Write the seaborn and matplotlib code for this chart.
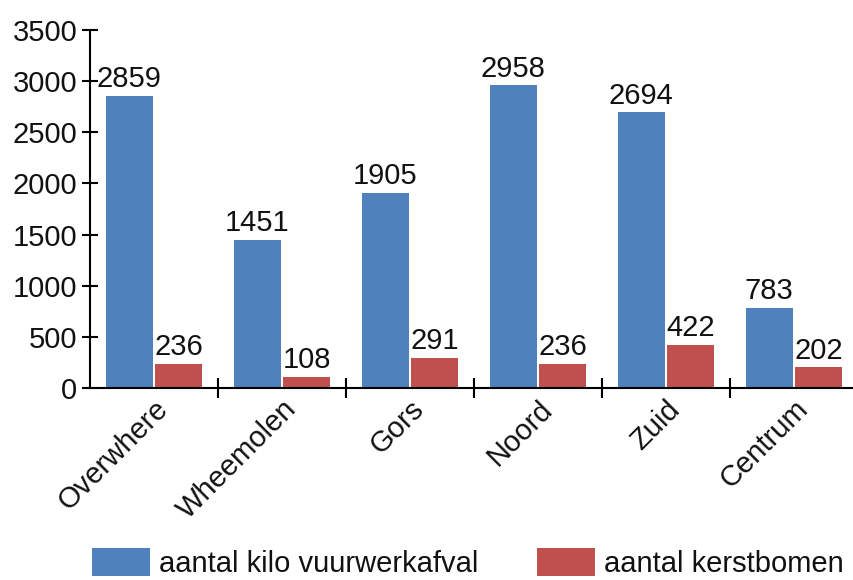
import matplotlib
matplotlib.use("Agg")
import matplotlib.pyplot as plt
from matplotlib import font_manager
from matplotlib.ticker import FixedLocator
from matplotlib.patches import Patch
import seaborn as sns
import pandas as pd

categories = ["Overwhere", "Wheemolen", "Gors", "Noord", "Zuid", "Centrum"]
vuurwerk = [2859, 1451, 1905, 2958, 2694, 783]
kerstbomen = [236, 108, 291, 236, 422, 202]
series_names = ["aantal kilo vuurwerkafval", "aantal kerstbomen"]
colors = ["#4F81BD", "#C0504D"]

df = pd.DataFrame({
    "wijk": categories * 2,
    "waarde": vuurwerk + kerstbomen,
    "reeks": [series_names[0]] * len(categories) + [series_names[1]] * len(categories),
})

sns.set_style("white")
names = {f.name for f in font_manager.fontManager.ttflist}
fam = "Liberation Sans Narrow" if "Liberation Sans Narrow" in names else "Liberation Sans"
plt.rcParams["font.family"] = [fam, "DejaVu Sans"]

fig = plt.figure(figsize=(8.54, 5.8), dpi=100)
ax = fig.add_axes([90 / 854, 1 - 388 / 580, 1 - 90 / 854 + 4 / 854, (388 - 30) / 580])

sns.barplot(data=df, x="wijk", y="waarde", hue="reeks", palette=colors,
            width=0.78, gap=0.06, ax=ax, legend=False, saturation=1,
            edgecolor="none")

fs = 21
for cont in ax.containers:
    ax.bar_label(cont, fmt="%d", padding=2, fontsize=fs, color="#111111")

ax.set_ylim(0, 3500)
ax.set_xlim(-0.5, 5.5)
ax.set_yticks(range(0, 3501, 500))
ax.tick_params(axis="y", left=True, labelsize=fs, direction="inout", length=12, width=1.5,
               color="black", labelcolor="#111111", pad=3)
ax.tick_params(axis="x", which="major", bottom=True, labelsize=fs, length=0, pad=5,
               labelcolor="#111111")
ax.xaxis.set_minor_locator(FixedLocator([0.5, 1.5, 2.5, 3.5, 4.5]))
ax.tick_params(axis="x", which="minor", bottom=True, direction="inout", length=14,
               width=1.5, color="black")
for lab in ax.get_xticklabels():
    lab.set_rotation(45)
    lab.set_ha("right")
    lab.set_rotation_mode("anchor")
ax.set_xlabel("")
ax.set_ylabel("")
for s in ["top", "right"]:
    ax.spines[s].set_visible(False)
for s in ["left", "bottom"]:
    ax.spines[s].set_color("black")
    ax.spines[s].set_linewidth(1.5)

handles = [Patch(facecolor=c, edgecolor="none") for c in colors]
fig.legend(handles, series_names, loc="upper left", bbox_to_anchor=(92 / 854, 1 - 548 / 580),
           ncol=2, frameon=False, fontsize=fs, handlelength=2.0, handleheight=1.1,
           handletextpad=0.3, columnspacing=2.0, borderpad=0, borderaxespad=0,
           labelcolor="#111111")

fig.savefig("out.png", dpi=100)
